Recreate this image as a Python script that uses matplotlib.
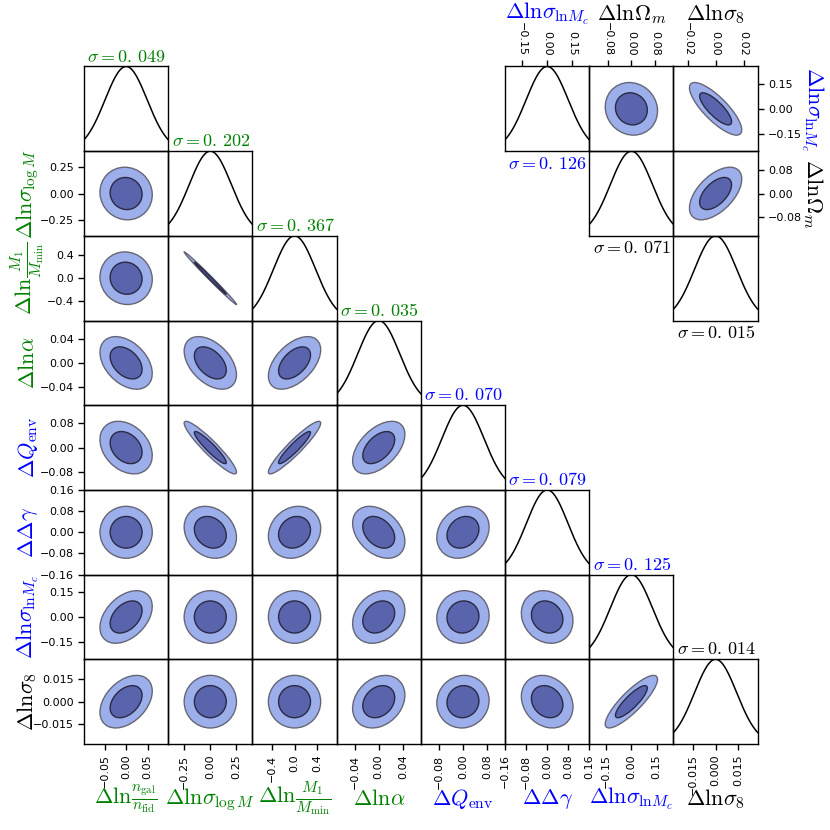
import numpy as np
import matplotlib
matplotlib.use("Agg")
import matplotlib.pyplot as plt
from matplotlib.patches import Ellipse

plt.rcParams['mathtext.fontset'] = 'cm'
plt.rcParams['font.family'] = ['DejaVu Sans']

# ---------------- data ----------------
labels = [r'$\Delta{\rm ln}\frac{n_{\rm gal}}{n_{\rm fid}}$', r'$\Delta{\rm ln}\sigma_{\log M}$',
          r'$\Delta{\rm ln}\frac{M_1}{M_{\rm min}}$', r'$\Delta{\rm ln}\alpha$',
          r'$\Delta Q_{\rm env}$', r'$\Delta\Delta\gamma$',
          r'$\Delta{\rm ln}\sigma_{{\rm ln}M_c}$', r'$\Delta{\rm ln}\sigma_8$']
colors = ['green', 'green', 'green', 'green', 'blue', 'blue', 'blue', 'black']
sigmas = [0.049, 0.202, 0.367, 0.035, 0.070, 0.079, 0.125, 0.014]
sigma_text = ['0.049', '0.202', '0.367', '0.035', '0.070', '0.079', '0.125', '0.014']
ticks = [[-0.05, 0.0, 0.05], [-0.25, 0.0, 0.25], [-0.4, 0.0, 0.4], [-0.04, 0.0, 0.04],
         [-0.08, 0.0, 0.08], [-0.16, -0.08, 0.0, 0.08, 0.16], [-0.15, 0.0, 0.15],
         [-0.015, 0.0, 0.015]]
# correlation coefficients, lower triangle: corr[i][j] for j < i
corr = [
    [],
    [-0.05],
    [-0.05, -0.995],
    [-0.40, -0.45, 0.50],
    [-0.30, -0.93, 0.93, 0.50],
    [0.00, -0.20, 0.15, -0.35, 0.20],
    [0.40, 0.00, 0.00, 0.25, 0.05, -0.15],
    [0.40, 0.00, 0.00, 0.25, 0.05, -0.20, 0.85],
]

# inset (with cosmology)
in_labels = [r'$\Delta{\rm ln}\sigma_{{\rm ln}M_c}$', r'$\Delta{\rm ln}\Omega_m$', r'$\Delta{\rm ln}\sigma_8$']
in_colors = ['blue', 'black', 'black']
in_sigmas = [0.126, 0.071, 0.015]
in_sigma_text = ['0.126', '0.071', '0.015']
in_ticks = [[-0.15, 0.0, 0.15], [-0.08, 0.0, 0.08], [-0.02, 0.0, 0.02]]
# upper triangle correlations: in_corr[(row, col)], x = col param, y = row param
in_corr = {(0, 1): -0.08, (0, 2): -0.80, (1, 2): 0.55}

# contour levels (delta chi^2 for 68% and 95% in 2D)
levels = [np.sqrt(6.17), np.sqrt(2.30)]
fill_cols = ['#9cafeb', '#5a64ad']
edge_cols = ['#666677', '#2a2a44']

# ---------------- layout ----------------
L, R, T, B = 0.1012, 0.9129, 0.9199, 0.1036
cw = (R - L) / 8.0
ch = (T - B) / 8.0
TICK_FS = 8
LAB_FS = 16
SIG_FS = 13

fig = plt.figure(figsize=(8.3, 8.3), dpi=100)


def lim_of(s, tk):
    return max(2 * s, max(abs(t) for t in tk) * 1.0001)


def draw_ellipse(ax, sx, sy, rho):
    cov = np.array([[sx * sx, rho * sx * sy], [rho * sx * sy, sy * sy]])
    vals, vecs = np.linalg.eigh(cov)
    order = vals.argsort()[::-1]
    vals, vecs = vals[order], vecs[:, order]
    ang = np.degrees(np.arctan2(vecs[1, 0], vecs[0, 0]))
    a, b = np.sqrt(vals)
    for lev, fc, ec in zip(levels, fill_cols, edge_cols):
        e = Ellipse((0, 0), width=lev * a, height=lev * b, angle=ang,
                    facecolor=fc, edgecolor=ec, lw=1.0)
        ax.add_patch(e)


def draw_gauss(ax, s, lim):
    x = np.linspace(-lim, lim, 300)
    ax.plot(x, np.exp(-0.5 * (x / s) ** 2), color='black', lw=1.1)
    ax.set_xlim(-lim, lim)
    ax.set_ylim(0, 1.0)


def style(ax):
    ax.set_facecolor('none')
    for sp in ax.spines.values():
        sp.set_linewidth(1.0)
    ax.tick_params(direction='out', length=4, width=1, labelsize=TICK_FS)


n = len(labels)
lims = [lim_of(s, t) for s, t in zip(sigmas, ticks)]

for i in range(n):
    for j in range(i + 1):
        ax = fig.add_axes([L + j * cw, T - (i + 1) * ch, cw, ch])
        style(ax)
        if i == j:
            draw_gauss(ax, sigmas[i], lims[i])
            ax.text(0.04, 1.01, r'$\sigma = 0.\,%s$' % sigma_text[i][2:],
                    transform=ax.transAxes, ha='left', va='bottom',
                    fontsize=SIG_FS, color=colors[i])
            ax.set_yticks([])
        else:
            draw_ellipse(ax, sigmas[j], sigmas[i], corr[i][j])
            ax.set_xlim(-lims[j], lims[j])
            ax.set_ylim(-lims[i], lims[i])
            if j == 0:
                ax.set_yticks(ticks[i])
                ax.set_ylabel(labels[i], fontsize=LAB_FS, color=colors[i])
                ax.yaxis.set_label_coords(-0.67, 0.5)
                ax.yaxis.label.set_verticalalignment('center')
            else:
                ax.set_yticks([])
        if i == n - 1:
            ax.set_xticks(ticks[j])
            for lab in ax.get_xticklabels():
                lab.set_rotation(90)
            ax.set_xlabel(labels[j], fontsize=LAB_FS, color=colors[j])
            ax.xaxis.set_label_coords(0.5, -0.65)
            ax.xaxis.label.set_verticalalignment('center')
        else:
            ax.set_xticks([])

# ---------------- inset ----------------
m = len(in_labels)
in_lims = [lim_of(s, t) for s, t in zip(in_sigmas, in_ticks)]
for r in range(m):
    for c in range(r, m):
        ax = fig.add_axes([L + (5 + c) * cw, T - (r + 1) * ch, cw, ch])
        style(ax)
        ax.xaxis.tick_top()
        ax.yaxis.tick_right()
        if r == c:
            draw_gauss(ax, in_sigmas[r], in_lims[r])
            ax.text(0.04, -0.04, r'$\sigma = 0.\,%s$' % in_sigma_text[r][2:],
                    transform=ax.transAxes, ha='left', va='top',
                    fontsize=SIG_FS, color=in_colors[r])
            ax.set_yticks([])
        else:
            draw_ellipse(ax, in_sigmas[c], in_sigmas[r], in_corr[(r, c)])
            ax.set_xlim(-in_lims[c], in_lims[c])
            ax.set_ylim(-in_lims[r], in_lims[r])
            if c == m - 1:
                ax.set_yticks(in_ticks[r])
                ax.yaxis.set_label_position('right')
                ax.set_ylabel(in_labels[r], fontsize=LAB_FS, color=in_colors[r],
                              rotation=-90)
                ax.yaxis.set_label_coords(1.65, 0.5)
                ax.yaxis.label.set_verticalalignment('center')
            else:
                ax.set_yticks([])
        if r == 0:
            ax.set_xticks(in_ticks[c])
            for lab in ax.get_xticklabels():
                lab.set_rotation(-90)
            ax.xaxis.set_label_position('top')
            ax.set_xlabel(in_labels[c], fontsize=LAB_FS, color=in_colors[c])
            ax.xaxis.set_label_coords(0.5, 1.62)
            ax.xaxis.label.set_verticalalignment('center')
        else:
            ax.set_xticks([])

fig.savefig('out.png', dpi=100)
